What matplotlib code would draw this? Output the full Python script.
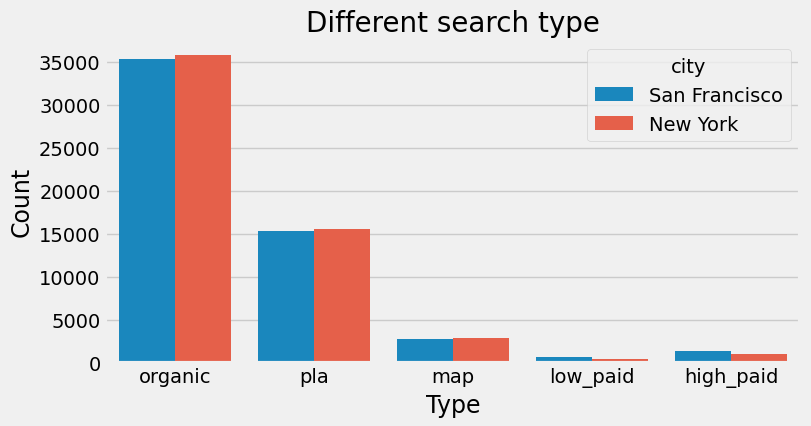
import numpy as np
import matplotlib
matplotlib.use("Agg")
import matplotlib.pyplot as plt

types = ["organic", "pla", "map", "low_paid", "high_paid"]
san_francisco = [35400, 15350, 2700, 630, 1325]
new_york = [35800, 15600, 2850, 395, 975]

plt.style.use("fivethirtyeight")

fig = plt.figure(figsize=(8.11, 4.27), dpi=100)
ax = fig.add_axes([0.130, 0.1487, 0.857, 0.756])

x = np.arange(len(types))
width = 0.4
# no zorder here: the thick background-coloured spine has to cover the bar bottoms
ax.bar(x - width / 2, san_francisco, width, color="#1a87bd", label="San Francisco")
ax.bar(x + width / 2, new_york, width, color="#e5604a", label="New York")

ax.set_xlim(-0.5, 4.5)
ax.set_ylim(0, 37590)
ax.set_xticks(x)
ax.set_xticklabels(types)
ax.tick_params(labelsize=14)
ax.grid(axis="x", visible=False)
ax.grid(axis="y", color="#cbcbcb", linewidth=1.0)
ax.set_axisbelow(True)

ax.set_title("Different search type", fontsize=20)
ax.set_xlabel("Type", fontsize=17)
ax.set_ylabel("Count", fontsize=17)
ax.legend(title="city", fontsize=14, title_fontsize=14, loc="upper right")

fig.savefig("out.png", dpi=100, facecolor=fig.get_facecolor())
